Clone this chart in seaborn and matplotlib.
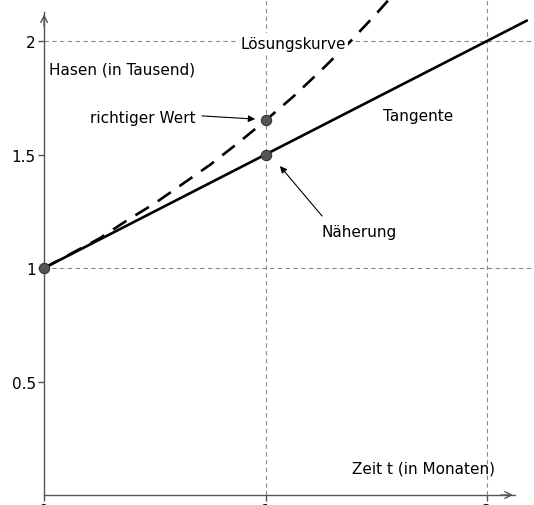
import numpy as np
import pandas as pd
import matplotlib
matplotlib.use("Agg")
import matplotlib.pyplot as plt
import seaborn as sns

# ---- data ----
curve_t = [0.0, 0.125, 0.25, 0.375, 0.5, 0.625, 0.75, 0.875, 1.0, 1.125, 1.25, 1.375, 1.5, 1.6]
curve_y = [1.00, 1.065, 1.13, 1.21, 1.285, 1.37, 1.455, 1.55, 1.65, 1.755, 1.87, 1.99, 2.12, 2.23]
tangent_t = [0.0, 2.18]
tangent_y = [1.0, 2.09]
point_t = [0.0, 1.0, 1.0]
point_y = [1.0, 1.5, 1.65]
x_ticks = [0, 1, 2]
x_ticklabels = ["0", "1", "2"]
y_ticks = [0.5, 1, 1.5, 2]
y_ticklabels = ["0.5", "1", "1.5", "2"]
grid_x = [1, 2]
grid_y = [1, 2]

sns.set_style("white")
plt.rcParams['font.family'] = ['DejaVu Sans']
plt.rcParams['text.color'] = 'black'
FS = 11

fig = plt.figure(figsize=(5.34, 5.06), dpi=100)
ax = fig.add_axes([0, 0, 1, 1])
ax.set_xlim(-0.199, 2.212)
ax.set_ylim(-0.044, 2.185)

# grid lines
gcol = "#8a8a8a"
for gx in grid_x:
    ax.plot([gx, gx], [0, 2.3], color=gcol, lw=0.8, dashes=(4, 3), zorder=1)
for gy in grid_y:
    ax.plot([0, 2.3], [gy, gy], color=gcol, lw=0.8, dashes=(4, 3), zorder=1)

curve_df = pd.DataFrame({"t": curve_t, "y": curve_y})
tan_df = pd.DataFrame({"t": tangent_t, "y": tangent_y})
pts_df = pd.DataFrame({"t": point_t, "y": point_y})

sns.lineplot(data=curve_df, x="t", y="y", ax=ax, color="black", lw=1.9,
             sort=False, estimator=None, zorder=3).lines[-1].set_dashes((6, 4))
sns.lineplot(data=tan_df, x="t", y="y", ax=ax, color="black", lw=1.9,
             sort=False, estimator=None, zorder=3)
sns.scatterplot(data=pts_df, x="t", y="y", ax=ax, s=55, color="#555555",
                edgecolor="#333333", linewidth=0.8, zorder=5)

# spines / axes
acol = "#555555"
for s in ["top", "right"]:
    ax.spines[s].set_visible(False)
ax.spines["left"].set_position(("data", 0))
ax.spines["bottom"].set_position(("data", 0))
ax.spines["left"].set_bounds(0, 2.128)
ax.spines["bottom"].set_bounds(0, 2.126)
for s in ["left", "bottom"]:
    ax.spines[s].set_color(acol)
    ax.spines[s].set_linewidth(1.0)
ax.annotate("", xy=(0, 2.13), xytext=(0, 2.05),
            arrowprops=dict(arrowstyle="->", color=acol, lw=1.0, mutation_scale=12))
ax.annotate("", xy=(2.13, 0), xytext=(2.05, 0),
            arrowprops=dict(arrowstyle="->", color=acol, lw=1.0, mutation_scale=12))

ax.set_xticks(x_ticks)
ax.set_xticklabels(x_ticklabels)
ax.set_yticks(y_ticks)
ax.set_yticklabels(y_ticklabels)
ax.tick_params(axis="both", direction="out", length=4, width=1, color=acol,
               labelsize=FS, pad=2, labelcolor="black")
ax.tick_params(axis="both", which="both", left=True, bottom=True)
ax.set_xlabel("")
ax.set_ylabel("")

# texts
ax.text(0.0226, 1.877, "Hasen (in Tausend)", fontsize=FS, ha="left", va="center")
ax.text(1.124, 1.991, "Lösungskurve", fontsize=FS, ha="center", va="center",
        bbox=dict(facecolor="white", edgecolor="none", pad=1.5), zorder=4)
ax.text(0.208, 1.665, "richtiger Wert", fontsize=FS, ha="left", va="center")
ax.text(1.530, 1.674, "Tangente", fontsize=FS, ha="left", va="center")
ax.text(1.251, 1.159, "Näherung", fontsize=FS, ha="left", va="center")
ax.text(1.391, 0.119, "Zeit t (in Monaten)", fontsize=FS, ha="left", va="center")

ax.annotate("", xy=(0.953, 1.656), xytext=(0.713, 1.670),
            arrowprops=dict(arrowstyle="-|>", color="black", lw=0.8, mutation_scale=10,
                            shrinkA=0, shrinkB=0))
ax.annotate("", xy=(1.065, 1.449), xytext=(1.255, 1.229),
            arrowprops=dict(arrowstyle="-|>", color="black", lw=0.8, mutation_scale=10,
                            shrinkA=0, shrinkB=0))

fig.savefig("out.png", dpi=100)
